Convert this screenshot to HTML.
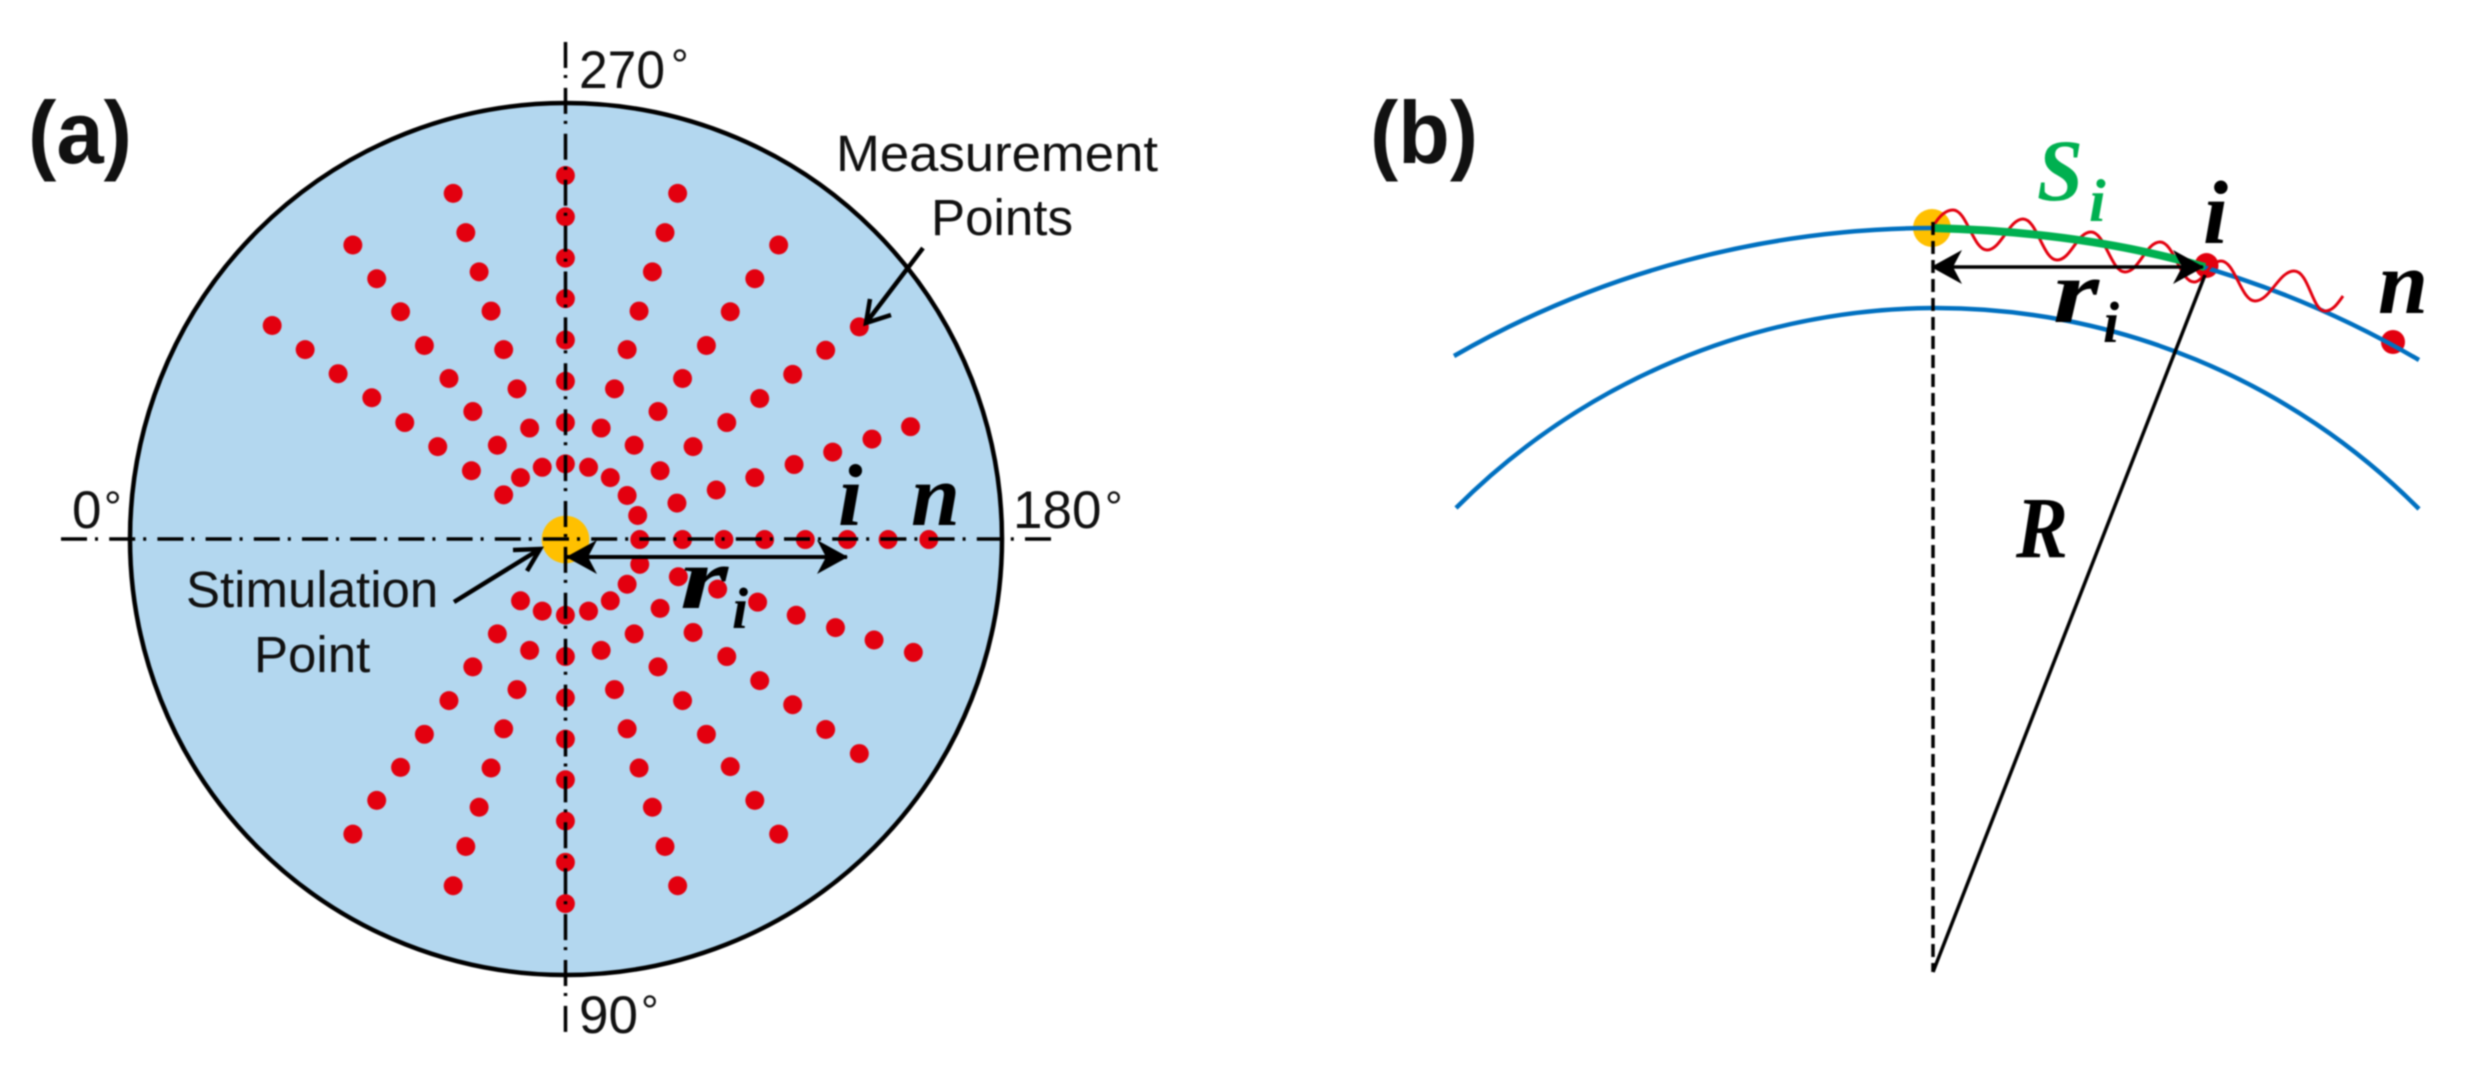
<!DOCTYPE html>
<html><head><meta charset="utf-8"><style>
html,body{margin:0;padding:0;background:#fff}
svg{display:block;filter:blur(.7px)}
.d ellipse{rx:13.5px;ry:13.8px;fill:#e3000f}
.s{font-family:"Liberation Sans",sans-serif;fill:#111}
.m{font-family:"Liberation Serif",serif;font-weight:bold;font-style:italic;fill:#000}
</style></head><body>
<svg xmlns="http://www.w3.org/2000/svg" width="2479" height="1076" viewBox="0 0 2479 1076">
<defs>
<marker id="h" markerUnits="userSpaceOnUse" markerWidth="36" markerHeight="38" refX="33" refY="19" orient="auto-start-reverse"><path d="M34 19L3 2L12 19L3 36Z" fill="#000"/></marker>
</defs>
<rect width="2479" height="1076" fill="#fff"/>
<circle cx="566" cy="539" r="436" fill="#b3d7ef" stroke="#000" stroke-width="4.5"/>
<g class="d" transform="translate(0,-2.06) scale(.7015,.6882)">
<ellipse cx="806" cy="258"/><ellipse cx="806" cy="318"/><ellipse cx="806" cy="378"/><ellipse cx="806" cy="437"/><ellipse cx="806" cy="497"/><ellipse cx="806" cy="557"/><ellipse cx="806" cy="617"/><ellipse cx="806" cy="677"/>
<ellipse cx="806" cy="897"/><ellipse cx="806" cy="957"/><ellipse cx="806" cy="1017"/><ellipse cx="806" cy="1077"/><ellipse cx="806" cy="1136"/><ellipse cx="806" cy="1196"/><ellipse cx="806" cy="1256"/><ellipse cx="806" cy="1316"/>
<ellipse cx="912" cy="787"/><ellipse cx="973" cy="787"/><ellipse cx="1032" cy="787"/><ellipse cx="1090" cy="787"/><ellipse cx="1148" cy="787"/><ellipse cx="1208" cy="787"/><ellipse cx="1266" cy="787"/><ellipse cx="1324" cy="787"/>
<ellipse cx="966" cy="284"/><ellipse cx="948" cy="341"/><ellipse cx="930" cy="398"/><ellipse cx="911" cy="455"/><ellipse cx="894" cy="511"/><ellipse cx="876" cy="568"/><ellipse cx="857" cy="625"/><ellipse cx="839" cy="682"/>
<ellipse cx="1110" cy="359"/><ellipse cx="1076" cy="408"/><ellipse cx="1041" cy="456"/><ellipse cx="1007" cy="505"/><ellipse cx="973" cy="553"/><ellipse cx="938" cy="601"/><ellipse cx="904" cy="650"/><ellipse cx="870" cy="697"/>
<ellipse cx="1225" cy="478"/><ellipse cx="1177" cy="512"/><ellipse cx="1130" cy="547"/><ellipse cx="1083" cy="582"/><ellipse cx="1036" cy="617"/><ellipse cx="988" cy="652"/><ellipse cx="941" cy="687"/><ellipse cx="894" cy="723"/>
<ellipse cx="1298" cy="623"/><ellipse cx="1243" cy="641"/><ellipse cx="1187" cy="660"/><ellipse cx="1132" cy="678"/><ellipse cx="1076" cy="697"/><ellipse cx="1021" cy="715"/><ellipse cx="965" cy="734"/><ellipse cx="909" cy="752"/>
<ellipse cx="646" cy="284"/><ellipse cx="664" cy="341"/><ellipse cx="683" cy="398"/><ellipse cx="700" cy="455"/><ellipse cx="718" cy="511"/><ellipse cx="737" cy="568"/><ellipse cx="755" cy="625"/><ellipse cx="773" cy="682"/>
<ellipse cx="503" cy="359"/><ellipse cx="537" cy="408"/><ellipse cx="571" cy="456"/><ellipse cx="605" cy="505"/><ellipse cx="640" cy="553"/><ellipse cx="674" cy="601"/><ellipse cx="709" cy="650"/><ellipse cx="742" cy="697"/>
<ellipse cx="388" cy="476"/><ellipse cx="435" cy="511"/><ellipse cx="482" cy="546"/><ellipse cx="530" cy="581"/><ellipse cx="577" cy="617"/><ellipse cx="624" cy="652"/><ellipse cx="672" cy="687"/><ellipse cx="718" cy="722"/>
<ellipse cx="966" cy="1290"/><ellipse cx="948" cy="1233"/><ellipse cx="930" cy="1176"/><ellipse cx="911" cy="1119"/><ellipse cx="894" cy="1062"/><ellipse cx="876" cy="1005"/><ellipse cx="857" cy="948"/><ellipse cx="839" cy="891"/>
<ellipse cx="1110" cy="1215"/><ellipse cx="1076" cy="1166"/><ellipse cx="1041" cy="1117"/><ellipse cx="1007" cy="1070"/><ellipse cx="973" cy="1021"/><ellipse cx="938" cy="972"/><ellipse cx="904" cy="924"/><ellipse cx="870" cy="876"/>
<ellipse cx="1225" cy="1098"/><ellipse cx="1177" cy="1063"/><ellipse cx="1130" cy="1027"/><ellipse cx="1083" cy="992"/><ellipse cx="1036" cy="957"/><ellipse cx="988" cy="922"/><ellipse cx="941" cy="887"/><ellipse cx="894" cy="852"/>
<ellipse cx="1302" cy="951"/><ellipse cx="1246" cy="933"/><ellipse cx="1191" cy="915"/><ellipse cx="1135" cy="897"/><ellipse cx="1080" cy="878"/><ellipse cx="1023" cy="859"/><ellipse cx="967" cy="841"/><ellipse cx="912" cy="823"/>
<ellipse cx="646" cy="1290"/><ellipse cx="664" cy="1233"/><ellipse cx="683" cy="1176"/><ellipse cx="700" cy="1119"/><ellipse cx="718" cy="1062"/><ellipse cx="737" cy="1005"/><ellipse cx="755" cy="948"/><ellipse cx="773" cy="891"/>
<ellipse cx="503" cy="1215"/><ellipse cx="537" cy="1166"/><ellipse cx="571" cy="1118"/><ellipse cx="605" cy="1070"/><ellipse cx="640" cy="1021"/><ellipse cx="674" cy="972"/><ellipse cx="709" cy="924"/><ellipse cx="742" cy="876"/>
</g>
<circle cx="565.5" cy="539.5" r="23.8" fill="#ffc000"/>
<line x1="61" y1="539" x2="1051" y2="539" stroke="#000" stroke-width="3.5" stroke-dasharray="26 8 3 11.2"/>
<line x1="565.5" y1="42" x2="565.5" y2="1032" stroke="#000" stroke-width="3.5" stroke-dasharray="26 7 3 9.9"/>
<line x1="567" y1="557" x2="847" y2="557" stroke="#000" stroke-width="4" marker-start="url(#h)" marker-end="url(#h)"/>
<path d="M923 248L866 323M870 299L866 323L891 315" fill="none" stroke="#000" stroke-width="4.5"/>
<path d="M454 602L540 549M513 550L540 549L527 571" fill="none" stroke="#000" stroke-width="4.5"/>
<text class="s" x="28" y="163" font-size="88" font-weight="bold" fill="#000" textLength="104" lengthAdjust="spacingAndGlyphs">(a)</text>
<text class="s" x="579" y="88" font-size="53" textLength="86" lengthAdjust="spacingAndGlyphs">270</text><text class="s" x="671" y="80" font-size="44">°</text>
<text class="s" x="579" y="1033" font-size="53">90</text><text class="s" x="641" y="1026" font-size="44">°</text>
<text class="s" x="72" y="528" font-size="53">0</text><text class="s" x="104" y="522" font-size="44">°</text>
<text class="s" x="1013" y="528" font-size="53">180</text><text class="s" x="1105" y="522" font-size="44">°</text>
<text class="s" x="836" y="171" font-size="51" textLength="322" lengthAdjust="spacingAndGlyphs">Measurement</text>
<text class="s" x="931" y="235" font-size="51" textLength="142" lengthAdjust="spacingAndGlyphs">Points</text>
<text class="s" x="186" y="607" font-size="51">Stimulation</text>
<text class="s" x="254" y="672" font-size="51">Point</text>
<text class="m" x="838" y="525" font-size="88">i</text>
<text class="m" x="911" y="525" font-size="88">n</text>
<text class="m" x="680" y="608" font-size="88" textLength="48" lengthAdjust="spacingAndGlyphs">r</text>
<text class="m" x="732" y="628" font-size="58">i</text>

<circle cx="1932" cy="228" r="19" fill="#ffc000"/>
<ellipse cx="2206.5" cy="265.5" rx="12" ry="12.5" fill="#e3000f"/>
<circle cx="2393" cy="342" r="12" fill="#e3000f"/>
<path d="M1454 356A966 966 0 0 1 1933 228A966 966 0 0 1 2419 360" fill="none" stroke="#0070c0" stroke-width="4.5"/>
<path d="M1456 508A681 681 0 0 1 1933 308A681 681 0 0 1 2419 509" fill="none" stroke="#0070c0" stroke-width="4.5"/>
<path d="M1934 225C1940 215 1946 210 1953 210C1967 210 1973 250 1987 250C2001 250 2009 219 2023 219C2037 219 2043 260 2057 260C2071 260 2077 232 2091 232C2105 232 2111 272 2125 272C2139 272 2146 242 2160 242C2174 242 2180 282 2194 282C2204 282 2209 261 2221 261C2235 261 2241 301 2255 301C2270 301 2279 271 2294 271C2309 271 2312 311 2325 311C2333 311 2338 303 2343 296" fill="none" stroke="#e3000f" stroke-width="3"/>
<path d="M1932 228Q2085 232 2205 267" fill="none" stroke="#00b050" stroke-width="8"/>
<line x1="1933" y1="222" x2="1933" y2="972" stroke="#000" stroke-width="3.5" stroke-dasharray="13 6"/>
<line x1="1933" y1="972" x2="2205" y2="275" stroke="#000" stroke-width="3.5"/>
<line x1="1932" y1="267" x2="2203" y2="267" stroke="#000" stroke-width="3.5" marker-start="url(#h)" marker-end="url(#h)"/>
<text class="s" x="1370" y="163" font-size="88" font-weight="bold" fill="#000" textLength="108" lengthAdjust="spacingAndGlyphs">(b)</text>
<text class="m" x="2037" y="200" font-size="88" style="fill:#00b050" textLength="46" lengthAdjust="spacingAndGlyphs">S</text>
<text class="m" x="2089" y="221" font-size="60" style="fill:#00b050">i</text>
<text class="m" x="2203" y="243" font-size="90">i</text>
<text class="m" x="2378" y="313" font-size="90">n</text>
<text class="m" x="2053" y="322" font-size="90" textLength="46" lengthAdjust="spacingAndGlyphs">r</text>
<text class="m" x="2103" y="342" font-size="58">i</text>
<text class="m" x="2016" y="557" font-size="87" textLength="52" lengthAdjust="spacingAndGlyphs">R</text>
</svg>
</body></html>
